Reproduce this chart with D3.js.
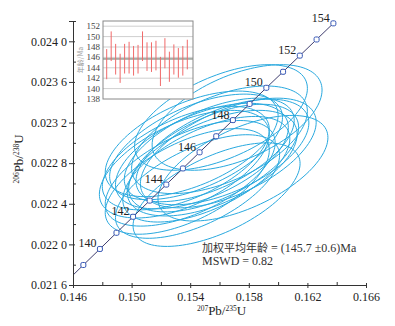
<!DOCTYPE html>
<html lang="zh">
<head>
    <meta charset="UTF-8">
    <title>U-Pb 谐和图</title>
    <script src="https://d3js.org/d3.v7.min.js"></script>
    <style>
        body { margin: 0; background: #fff; }
        text { font-family: "Liberation Serif", "Times New Roman", serif; }
    </style>
</head>
<body>
    <div id="chart"></div>
    <script>
        // 谐和线上的年龄点 (Ma) 及对应比值
        const concAges = [138, 139, 140, 141, 142, 143, 144, 145, 146, 147, 148, 149, 150, 151, 152, 153, 154];
        const conc207 = [0.145578, 0.146707, 0.147837, 0.148968, 0.150100, 0.151233, 0.152367, 0.153503, 0.154640, 0.155777, 0.156916, 0.158056, 0.159197, 0.160339, 0.161483, 0.162627, 0.163773];
        const conc206 = [0.021638, 0.021797, 0.021955, 0.022114, 0.022272, 0.022431, 0.022589, 0.022748, 0.022907, 0.023065, 0.023224, 0.023383, 0.023542, 0.023700, 0.023859, 0.024018, 0.024177];

        // 测点误差椭圆 (中心, 2σ, 相关系数)
        const r207 = [0.1540, 0.1561, 0.1556, 0.1545, 0.1548, 0.1566, 0.1576, 0.1537, 0.1572, 0.1553, 0.1562, 0.1544, 0.1558, 0.1560, 0.1538, 0.1536, 0.1551, 0.1555, 0.1541];
        const r206 = [0.02270, 0.02325, 0.02285, 0.02257, 0.02287, 0.02290, 0.02275, 0.02285, 0.02325, 0.02293, 0.02291, 0.02296, 0.02249, 0.02303, 0.02262, 0.02279, 0.02274, 0.02280, 0.02299];
        const e207 = [0.0058, 0.0059, 0.0058, 0.0056, 0.0059, 0.0060, 0.0058, 0.0057, 0.0058, 0.0058, 0.0059, 0.0059, 0.0057, 0.0060, 0.0056, 0.0058, 0.0057, 0.0058, 0.0059];
        const e206 = [0.00052, 0.00052, 0.00053, 0.00051, 0.00052, 0.00054, 0.00052, 0.00051, 0.00052, 0.00051, 0.00052, 0.00052, 0.00051, 0.00053, 0.00052, 0.00053, 0.00052, 0.00052, 0.00052];
        const rho = [0.58, 0.55, 0.57, 0.60, 0.54, 0.56, 0.58, 0.55, 0.52, 0.57, 0.55, 0.56, 0.60, 0.53, 0.59, 0.56, 0.58, 0.55, 0.54];

        // 小图: 单点年龄误差棒 (Ma)
        const barHi = [147.6, 151.0, 148.6, 146.7, 148.6, 149.0, 148.2, 148.4, 151.0, 148.9, 148.9, 149.2, 146.1, 149.7, 147.1, 148.5, 147.8, 148.2, 149.4];
        const barLo = [141.8, 145.3, 142.7, 141.1, 142.9, 142.9, 142.5, 142.9, 145.3, 143.4, 143.2, 143.5, 140.5, 143.9, 141.3, 142.7, 142.1, 142.5, 143.7];
        const meanAge = 145.7;
        const insetTicks = [138, 140, 142, 144, 146, 148, 150, 152];

        const xMajor = [0.146, 0.150, 0.154, 0.158, 0.162, 0.166];
        const xMinor = [0.148, 0.152, 0.156, 0.160, 0.164];
        const yMajor = [0.0216, 0.0220, 0.0224, 0.0228, 0.0232, 0.0236, 0.0240];
        const yMinor = [0.0218, 0.0222, 0.0226, 0.0230, 0.0234, 0.0238, 0.0242];

        const width = 395;
        const height = 326;
        const margin = { top: 21, right: 29, bottom: 41, left: 73 };
        const iw = width - margin.left - margin.right;
        const ih = height - margin.top - margin.bottom;

        const svg = d3.select("#chart").append("svg")
            .attr("width", width)
            .attr("height", height);

        const x = d3.scaleLinear().domain([0.146, 0.166]).range([0, iw]);
        const y = d3.scaleLinear().domain([0.0216, 0.0242]).range([ih, 0]);

        const g = svg.append("g").attr("transform", `translate(${margin.left},${margin.top})`);

        svg.append("defs").append("clipPath").attr("id", "plot-clip")
            .append("rect").attr("width", iw).attr("height", ih);

        // 椭圆轮廓
        const ellipses = r207.map((cx, i) => {
            return d3.range(0, 121).map(k => {
                const t = k / 120 * 2 * Math.PI;
                return [cx + e207[i] * Math.cos(t),
                        r206[i] + e206[i] * (rho[i] * Math.cos(t) + Math.sqrt(1 - rho[i] * rho[i]) * Math.sin(t))];
            });
        });
        const line = d3.line().x(d => x(d[0])).y(d => y(d[1]));

        g.append("g").attr("clip-path", "url(#plot-clip)")
            .selectAll("path.ell")
            .data(ellipses)
            .enter().append("path")
            .attr("class", "ell")
            .attr("d", d => line(d) + "Z")
            .attr("fill", "none")
            .attr("stroke", "#29a9df")
            .attr("stroke-width", 1);

        // 谐和线
        const concData = concAges.map((a, i) => ({ age: a, r7: conc207[i], r6: conc206[i] }));
        g.append("path")
            .attr("clip-path", "url(#plot-clip)")
            .attr("d", d3.line().x(d => x(d.r7)).y(d => y(d.r6))(concData))
            .attr("fill", "none")
            .attr("stroke", "#3f3d6e")
            .attr("stroke-width", 1);

        const marks = concData.filter(d => d.age >= 139);
        g.selectAll(".mk")
            .data(marks)
            .enter().append("rect")
            .attr("class", "mk")
            .attr("x", d => x(d.r7) - 2.5)
            .attr("y", d => y(d.r6) - 2.5)
            .attr("width", 5).attr("height", 5)
            .attr("rx", 1.5)
            .attr("fill", "#fff")
            .attr("stroke", "#3556b5")
            .attr("stroke-width", 1);

        g.selectAll(".mk-label")
            .data(marks.filter(d => d.age % 2 === 0))
            .enter().append("text")
            .attr("x", d => x(d.r7) - 3.5)
            .attr("y", d => y(d.r6) - 1.5)
            .attr("text-anchor", "end")
            .style("font-size", "12px")
            .style("fill", "#222")
            .text(d => d.age);

        // 坐标轴
        const fmtY = d => { const s = d3.format(".4f")(d); return s.slice(0, -1) + " " + s.slice(-1); };

        g.append("g").attr("transform", `translate(0,${ih})`)
            .call(d3.axisBottom(x).tickValues(xMajor).tickSize(3).tickPadding(4).tickFormat(d3.format(".3f")));
        g.append("g").attr("transform", `translate(0,${ih})`)
            .call(d3.axisTop(x).tickValues(xMajor).tickSize(2).tickFormat(""))
            .call(a => a.select(".domain").remove());
        g.append("g").attr("transform", `translate(0,${ih})`)
            .call(d3.axisTop(x).tickValues(xMinor).tickSize(3).tickFormat(""))
            .call(a => a.select(".domain").remove());

        g.append("g")
            .call(d3.axisLeft(y).tickValues(yMajor).tickSize(4).tickPadding(2).tickFormat(fmtY));
        g.append("g")
            .call(d3.axisRight(y).tickValues(yMajor).tickSize(2).tickFormat(""))
            .call(a => a.select(".domain").remove());
        g.append("g")
            .call(d3.axisRight(y).tickValues(yMinor).tickSize(3).tickFormat(""))
            .call(a => a.select(".domain").remove());

        g.selectAll(".domain, .tick line").attr("stroke", "#333");
        g.selectAll(".tick text")
            .style("font-family", "'Liberation Serif', 'Times New Roman', serif")
            .style("font-size", "12px")
            .style("fill", "#222");

        // 轴标题
        const xt = svg.append("text")
            .attr("x", margin.left + iw / 2 + 2)
            .attr("y", 315)
            .attr("text-anchor", "middle")
            .style("font-size", "13px")
            .style("fill", "#222");
        xt.append("tspan").attr("font-size", "7.5px").attr("dy", "-4.5").text("207");
        xt.append("tspan").attr("dy", "4.5").text("Pb/");
        xt.append("tspan").attr("font-size", "7.5px").attr("dy", "-4.5").text("235");
        xt.append("tspan").attr("dy", "4.5").text("U");

        const yt = svg.append("text")
            .attr("transform", `translate(23,${margin.top + ih / 2 + 6}) rotate(-90)`)
            .attr("text-anchor", "middle")
            .style("font-size", "13px")
            .style("fill", "#222");
        yt.append("tspan").attr("font-size", "7.5px").attr("dy", "-4.5").text("206");
        yt.append("tspan").attr("dy", "4.5").text("Pb/");
        yt.append("tspan").attr("font-size", "7.5px").attr("dy", "-4.5").text("238");
        yt.append("tspan").attr("dy", "4.5").text("U");

        // 注释
        const note = svg.append("text").attr("x", 202).attr("y", 252)
            .style("font-size", "12px").style("fill", "#333");
        note.append("tspan")
            .style("font-family", "'Noto Sans CJK SC', sans-serif")
            .style("font-size", "11px")
            .text("加权平均年龄");
        note.append("tspan").text(" = (145.7 ±0.6)Ma");
        svg.append("text").attr("x", 202).attr("y", 265)
            .style("font-size", "12px").style("fill", "#333")
            .text("MSWD = 0.82");

        // 小图
        const xi = d3.scalePoint().domain(d3.range(barHi.length)).range([106.7, 187.3]);
        const yi = d3.scaleLinear().domain([138, 153]).range([99, 21]);
        const inset = svg.append("g");
        inset.append("rect").attr("x", 103).attr("y", 21).attr("width", 90).attr("height", 78)
            .attr("fill", "#fff").attr("stroke", "none");
        inset.selectAll(".grid")
            .data(insetTicks.slice(1))
            .enter().append("line")
            .attr("x1", 103).attr("x2", 193)
            .attr("y1", d => yi(d)).attr("y2", d => yi(d))
            .attr("stroke", "#cfcfcf").attr("stroke-width", 1);
        inset.append("line")
            .attr("x1", 103).attr("x2", 193)
            .attr("y1", yi(meanAge)).attr("y2", yi(meanAge))
            .attr("stroke", "#5f6b5f").attr("stroke-width", 1);
        inset.selectAll(".bar")
            .data(barHi)
            .enter().append("line")
            .attr("x1", (d, i) => xi(i)).attr("x2", (d, i) => xi(i))
            .attr("y1", d => yi(d)).attr("y2", (d, i) => yi(barLo[i]))
            .attr("stroke", "#f06a6a").attr("stroke-width", 1);
        inset.append("rect").attr("x", 103).attr("y", 21).attr("width", 90).attr("height", 78)
            .attr("fill", "none").attr("stroke", "#888").attr("stroke-width", 1);
        inset.selectAll(".ilab")
            .data(insetTicks)
            .enter().append("text")
            .attr("x", 100).attr("y", d => yi(d) + 3)
            .attr("text-anchor", "end")
            .style("font-size", "9px").style("fill", "#444")
            .text(d => d);
        inset.append("text")
            .attr("transform", `translate(83,60) rotate(-90)`)
            .attr("text-anchor", "middle")
            .style("font-family", "'Noto Sans CJK SC', sans-serif")
            .style("font-size", "7px").style("fill", "#999")
            .text("年龄/Ma");
    </script>
</body>
</html>
